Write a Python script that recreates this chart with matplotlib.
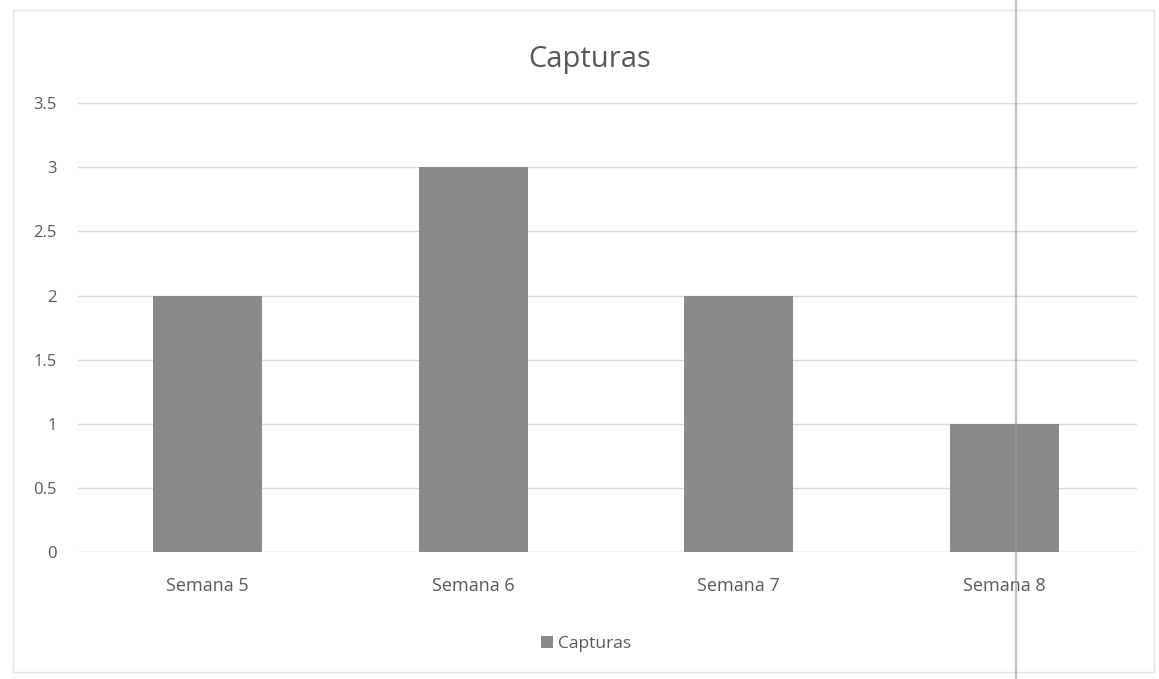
import matplotlib
matplotlib.use("Agg")
import matplotlib.pyplot as plt
from matplotlib.lines import Line2D
from matplotlib.patches import Rectangle

# data
categories = ["Semana 5", "Semana 6", "Semana 7", "Semana 8"]
capturas = [2, 3, 2, 1]
yticks = [0, 0.5, 1, 1.5, 2, 2.5, 3, 3.5]
ytick_labels = ["0", "0.5", "1", "1.5", "2", "2.5", "3", "3.5"]

plt.rcParams["font.family"] = ["Open Sans", "DejaVu Sans"]
text_col = "#595959"
bar_col = "#8a8a8a"

fig = plt.figure(figsize=(11.59, 6.79), dpi=100)
ax = fig.add_axes([0.067, 0.187, 0.914, 0.661])

x = range(len(categories))
ax.bar(x, capturas, width=0.41, color=bar_col, label="Capturas", zorder=3)

ax.set_xlim(-0.49, 3.5)
ax.set_ylim(0, 3.5)
ax.set_yticks(yticks)
ax.set_yticklabels(ytick_labels)
ax.set_xticks(list(x))
ax.set_xticklabels(categories)
ax.tick_params(axis="both", length=0, colors=text_col)
ax.tick_params(axis="x", pad=18, labelsize=13)
ax.tick_params(axis="y", pad=15, labelsize=12)
ax.grid(axis="y", color="#d9d9d9", linewidth=1, zorder=0)
for s in ax.spines.values():
    s.set_visible(False)
ax.axhline(0, color="#d9d9d9", linewidth=1, zorder=1)

fig.text(0.509, 0.912, "Capturas", ha="center", va="center",
         fontsize=21, color=text_col)

ax.legend(loc="upper center", bbox_to_anchor=(0.48, -0.152), frameon=False,
          fontsize=12.5, labelcolor=text_col, handlelength=0.7, handleheight=0.7,
          handletextpad=0.3)

# faint chart border and scan fold line
fig.add_artist(Rectangle((0.011, 0.01), 0.985, 0.975, transform=fig.transFigure,
                         fill=False, edgecolor="#e4e4e4", linewidth=1))
fig.add_artist(Line2D([0.877, 0.877], [0.0, 1.0], transform=fig.transFigure,
                      color="#9a9a9a", linewidth=1.5, alpha=0.6))

fig.savefig("out.png", dpi=100, facecolor="white")
